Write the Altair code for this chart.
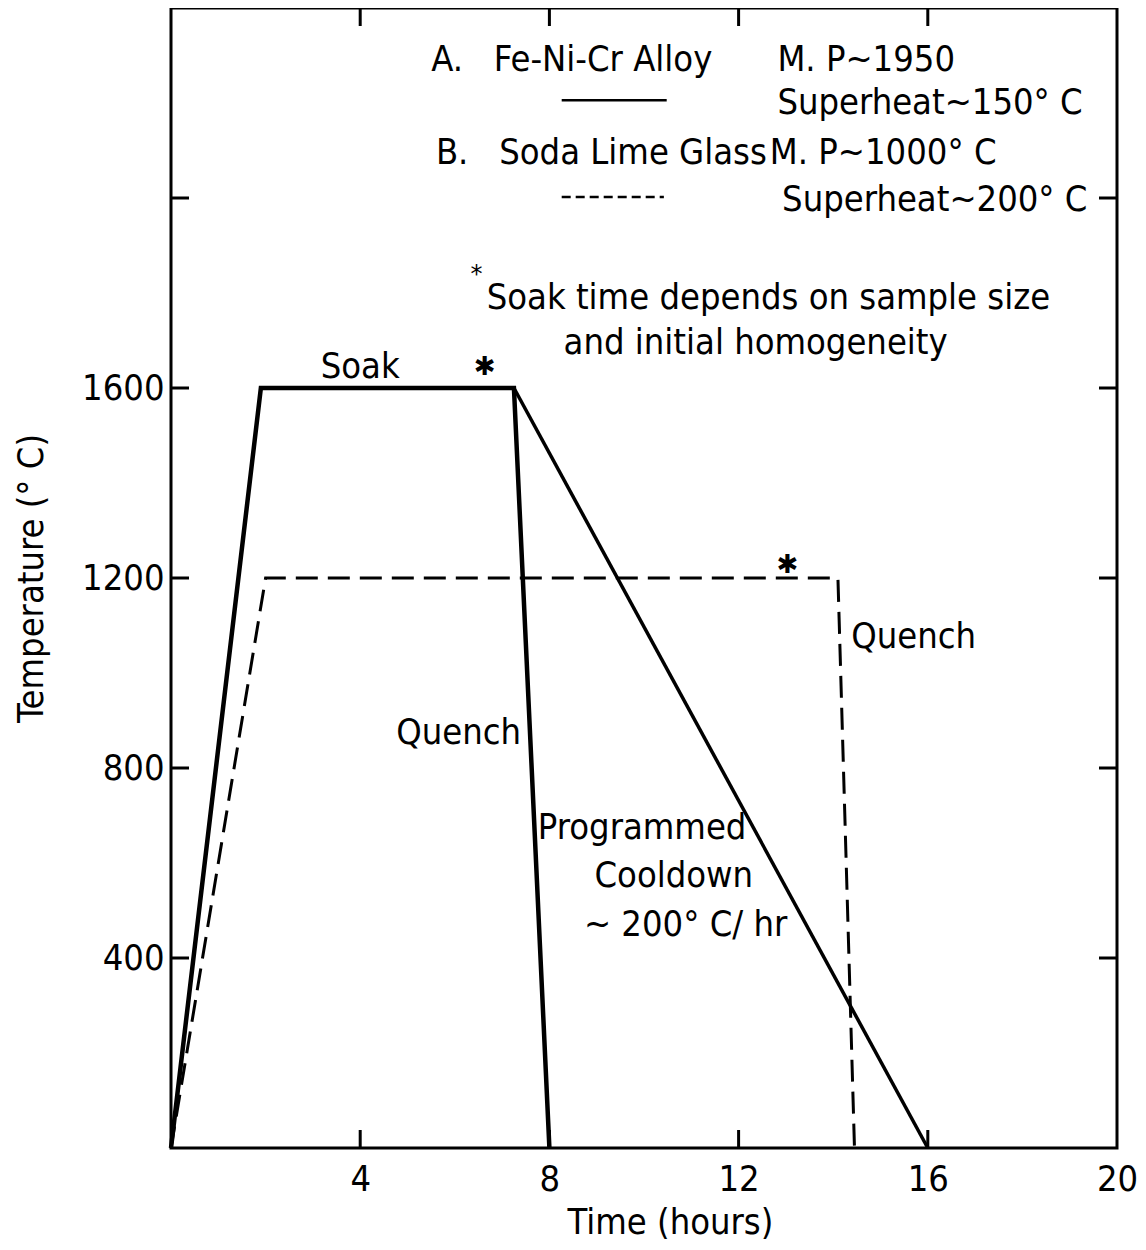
import altair as alt
import pandas as pd

FONT = "Liberation Sans Narrow, DejaVu Sans Condensed, Roboto Condensed, sans-serif"
NB = "\u00a0"

# Series A: Fe-Ni-Cr alloy (solid) - heat, soak, quench
a_quench_time = [0, 1.9, 7.25, 8.0]
a_quench_temp = [0, 1600, 1600, 0]
# Series A: programmed cooldown branch
a_cool_time = [7.25, 16.0]
a_cool_temp = [1600, 0]
# Series B: soda lime glass (dashed)
b_time = [0, 2.0, 14.1, 14.45]
b_temp = [0, 1200, 1200, 0]

x_label_values = [4, 8, 12, 16, 20]
x_tick_values = [4, 8, 12, 16]
y_label_values = [400, 800, 1200, 1600]
y_tick_values = [400, 800, 1200, 1600, 2000]

# annotations (data coordinates)
left_text = ["A." + NB * 3 + "Fe-Ni-Cr Alloy", "M. P~1950", "Superheat~150° C",
             "B." + NB * 3 + "Soda Lime Glass", "M. P~1000° C", "Superheat~200° C", "Quench"]
left_t = [5.5, 12.82, 12.82, 5.6, 12.66, 12.92, 14.38]
left_T = [2290, 2290, 2200, 2095, 2095, 1996, 1076]

center_text = ["Soak time depends on sample size", "and initial homogeneity", "Soak",
               "Programmed", "Cooldown", "~ 200° C/ hr"]
center_t = [12.63, 12.36, 4.0, 9.96, 10.63, 10.88]
center_T = [1789, 1695, 1645, 674, 573, 469]

right_text = ["Quench"]
right_t = [7.4]
right_T = [874]

star_t = [6.63, 13.03]
star_T = [1644, 1228]
small_star_t = [6.46]
small_star_T = [1838]

legend_solid_t = [8.26, 10.48]
legend_solid_T = [2206, 2206]
legend_dash_t = [8.26, 10.42]
legend_dash_T = [2002, 2002]

W, H = 946, 1140
FS = 36
xs = alt.Scale(domain=[0, 20], nice=False, zero=False)
ys = alt.Scale(domain=[0, 2400], nice=False, zero=False)

def df(t, T):
    return pd.DataFrame({"t": t, "T": T, "i": list(range(len(t)))})

X = lambda **kw: alt.X("t:Q", scale=xs, **kw)
Y = lambda **kw: alt.Y("T:Q", scale=ys, **kw)

base_x_axis = alt.Axis(values=x_label_values, tickSize=0, domain=False, grid=False,
                       labelFontSize=FS, labelFont=FONT, labelColor="black",
                       labelPadding=14, labelFlush=False, labelOverlap=False, format="d",
                       title="Time (hours)", titleFont=FONT, titleFontSize=FS,
                       titleFontWeight="normal", titleColor="black", titlePadding=8,
                       titleX=499, titleAlign="center")
base_y_axis = alt.Axis(values=y_label_values, tickSize=0, domain=False, grid=False,
                       labelFontSize=FS, labelFont=FONT, labelColor="black",
                       labelPadding=7, labelOverlap=False, labelBaseline="middle", format="d",
                       title="Temperature (° C)", titleFont=FONT, titleFontSize=FS,
                       titleFontWeight="normal", titleColor="black", titlePadding=31)

line_a1 = alt.Chart(df(a_quench_time, a_quench_temp)).mark_line(
    color="black", strokeWidth=4.5, strokeJoin="miter").encode(
    x=X(axis=base_x_axis), y=Y(axis=base_y_axis), order="i:Q")
line_a2 = alt.Chart(df(a_cool_time, a_cool_temp)).mark_line(
    color="black", strokeWidth=3.5).encode(x=X(), y=Y(), order="i:Q")
line_b = alt.Chart(df(b_time, b_temp)).mark_line(
    color="black", strokeWidth=3, strokeDash=[22, 10]).encode(x=X(), y=Y(), order="i:Q")

leg_solid = alt.Chart(df(legend_solid_t, legend_solid_T)).mark_line(
    color="black", strokeWidth=2.5).encode(x=X(), y=Y(), order="i:Q")
leg_dash = alt.Chart(df(legend_dash_t, legend_dash_T)).mark_line(
    color="black", strokeWidth=2.5, strokeDash=[9, 5]).encode(x=X(), y=Y(), order="i:Q")

# inward ticks
tick_left = alt.Chart(pd.DataFrame({"T": y_tick_values})).mark_rule(color="black", strokeWidth=3).encode(
    y=Y(), x=alt.value(0), x2=alt.value(18))
tick_right = alt.Chart(pd.DataFrame({"T": y_tick_values})).mark_rule(color="black", strokeWidth=3).encode(
    y=Y(), x=alt.value(W), x2=alt.value(W - 18))
tick_bottom = alt.Chart(pd.DataFrame({"t": x_tick_values})).mark_rule(color="black", strokeWidth=3).encode(
    x=X(), y=alt.value(H), y2=alt.value(H - 18))
tick_top = alt.Chart(pd.DataFrame({"t": x_tick_values})).mark_rule(color="black", strokeWidth=3).encode(
    x=X(), y=alt.value(0), y2=alt.value(18))

def text_layer(texts, t, T, align):
    d = pd.DataFrame({"t": t, "T": T, "label": texts})
    return alt.Chart(d).mark_text(align=align, baseline="middle", font=FONT,
                                  fontSize=FS, color="black").encode(
        x=X(), y=Y(), text="label:N")

txt_left = text_layer(left_text, left_t, left_T, "left")
txt_center = text_layer(center_text, center_t, center_T, "center")
txt_right = text_layer(right_text, right_t, right_T, "right")

stars = alt.Chart(pd.DataFrame({"t": star_t, "T": star_T, "s": ["✱"] * len(star_t)})).mark_text(
    font="DejaVu Sans", fontSize=26, color="black", baseline="middle").encode(x=X(), y=Y(), text="s:N")
small_star = alt.Chart(pd.DataFrame({"t": small_star_t, "T": small_star_T, "s": ["*"]})).mark_text(
    font="DejaVu Sans", fontSize=24, color="black", baseline="middle").encode(x=X(), y=Y(), text="s:N")

chart = alt.layer(
    line_a1, line_a2, line_b, leg_solid, leg_dash,
    tick_left, tick_right, tick_bottom, tick_top,
    txt_left, txt_center, txt_right, stars, small_star
).properties(
    width=W, height=H,
    autosize=alt.AutoSizeParams(type="none"),
    padding={"left": 163, "top": 0, "right": 21, "bottom": 100},
    background="white",
).configure_view(stroke="black", strokeWidth=3)

chart.save("out.html", embed_options={"renderer": "svg", "actions": False})
